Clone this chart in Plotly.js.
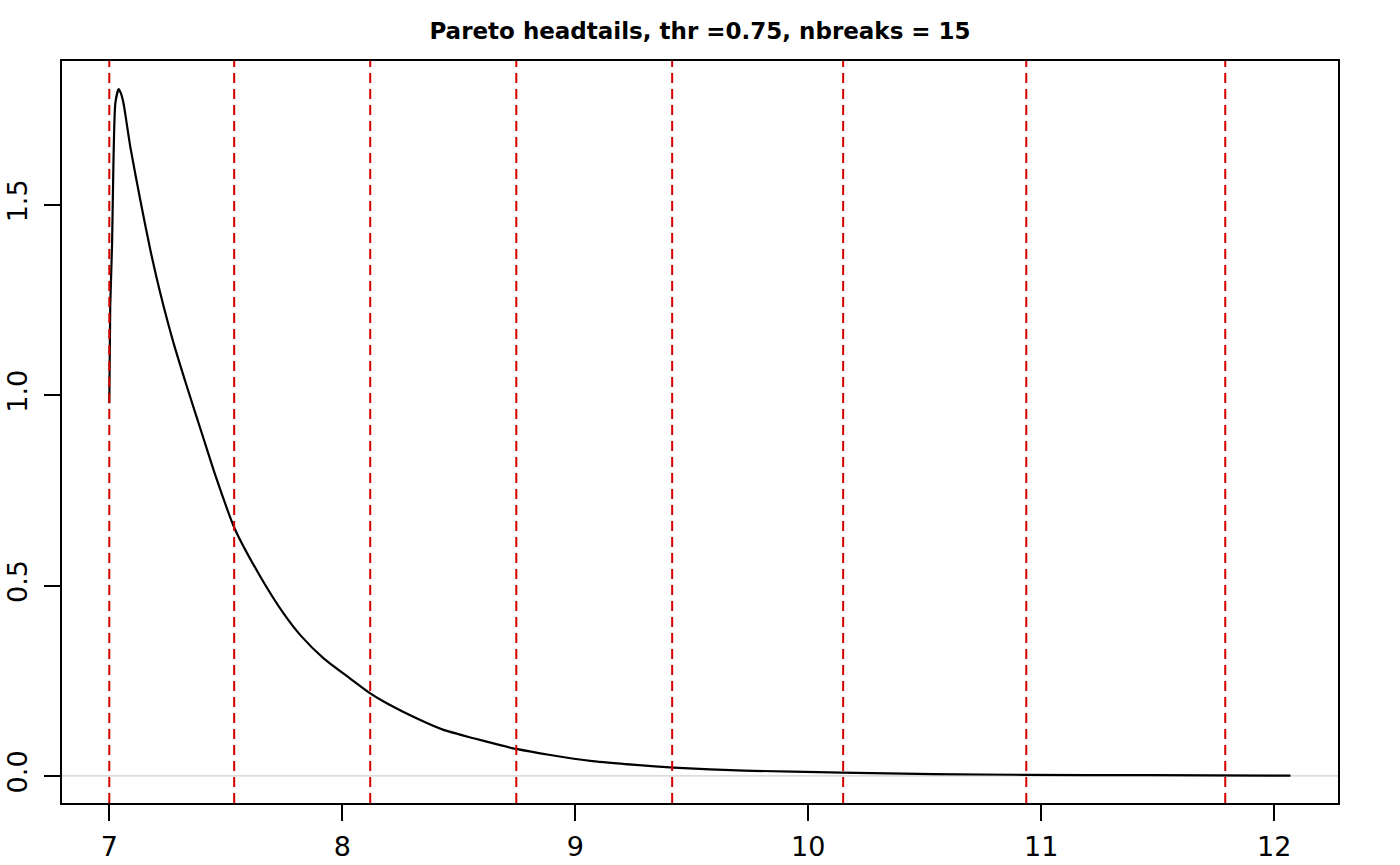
<!DOCTYPE html>
<html>
<head>
<meta charset="utf-8">
<script src="https://cdn.plot.ly/plotly-3.0.1.min.js"></script>
<style>html,body{margin:0;padding:0;background:#fff;}#chart{width:1400px;height:865px;}</style>
</head>
<body>
<div id="chart"></div>
<script>
// Density curve
var densityX = [7.000, 7.004, 7.012, 7.018, 7.026, 7.040, 7.050, 7.061, 7.090, 7.133, 7.176, 7.219, 7.276, 7.333, 7.400, 7.455, 7.538, 7.648, 7.748, 7.820, 7.920, 8.034, 8.120, 8.191, 8.335, 8.435, 8.564, 8.678, 8.747, 8.893, 9.073, 9.259, 9.422, 9.725, 10.143, 10.539, 10.934, 11.470, 12.070];
var densityY = [0.979, 1.233, 1.399, 1.618, 1.767, 1.804, 1.793, 1.767, 1.653, 1.513, 1.382, 1.268, 1.137, 1.023, 0.895, 0.790, 0.650, 0.524, 0.427, 0.370, 0.309, 0.256, 0.217, 0.191, 0.147, 0.121, 0.099, 0.081, 0.071, 0.055, 0.039, 0.029, 0.022, 0.014, 0.009, 0.005, 0.003, 0.002, 0.001];
// Break positions (red dashed lines)
var breaks = [7.000, 7.536, 8.120, 8.747, 9.416, 10.150, 10.936, 11.790];
// Tick labels
var xTicks = [7, 8, 9, 10, 11, 12];
var yTicks = [0, 0.5, 1, 1.5];
var yTickText = ["0.0", "0.5", "1.0", "1.5"];
var titleText = "Pareto headtails, thr =0.75, nbreaks = 15";

var shapes = [{
  type: 'line', xref: 'paper', yref: 'y', x0: 0, x1: 1, y0: 0, y1: 0,
  line: {color: '#D0D0D0', width: 1.2}, layer: 'below'
}];
breaks.forEach(function (b) {
  shapes.push({
    type: 'line', xref: 'x', yref: 'paper', x0: b, x1: b, y0: 0, y1: 1,
    line: {color: '#D60000', width: 2, dash: '10px,6px'}, layer: 'above'
  });
});

var trace = {
  x: densityX, y: densityY, type: 'scatter', mode: 'lines',
  line: {color: '#000000', width: 2.2, shape: 'spline', smoothing: 0.6}, hoverinfo: 'skip'
};

var layout = {
  width: 1400, height: 865,
  margin: {l: 62, r: 62, t: 61, b: 62, pad: 0},
  paper_bgcolor: '#fff', plot_bgcolor: '#fff',
  showlegend: false,
  title: {
    text: '<b>' + titleText + '</b>',
    x: 0.5, xanchor: 'center', xref: 'paper',
    y: 1 - 31 / 865, yanchor: 'middle', yref: 'container',
    font: {family: 'DejaVu Sans', size: 23, color: '#000'}
  },
  xaxis: {
    range: [6.797, 12.274], tickmode: 'array', tickvals: xTicks,
    ticks: 'outside', ticklen: 16, tickwidth: 2, tickcolor: '#000',
    showline: true, linewidth: 2, linecolor: '#000', mirror: true,
    showgrid: false, zeroline: false,
    tickfont: {family: 'DejaVu Sans', size: 27, color: '#000'},
    ticklabelstandoff: 3
  },
  yaxis: {
    range: [-0.071, 1.878], tickmode: 'array', tickvals: yTicks, ticktext: yTickText,
    ticks: 'outside', ticklen: 16, tickwidth: 2, tickcolor: '#000',
    showline: true, linewidth: 2, linecolor: '#000', mirror: true,
    showgrid: false, zeroline: false,
    tickfont: {family: 'DejaVu Sans', size: 27, color: '#000'}, tickangle: -90,
    ticklabelstandoff: 6
  },
  shapes: shapes
};

Plotly.newPlot('chart', [trace], layout, {displayModeBar: false, staticPlot: true});
</script>
</body>
</html>
